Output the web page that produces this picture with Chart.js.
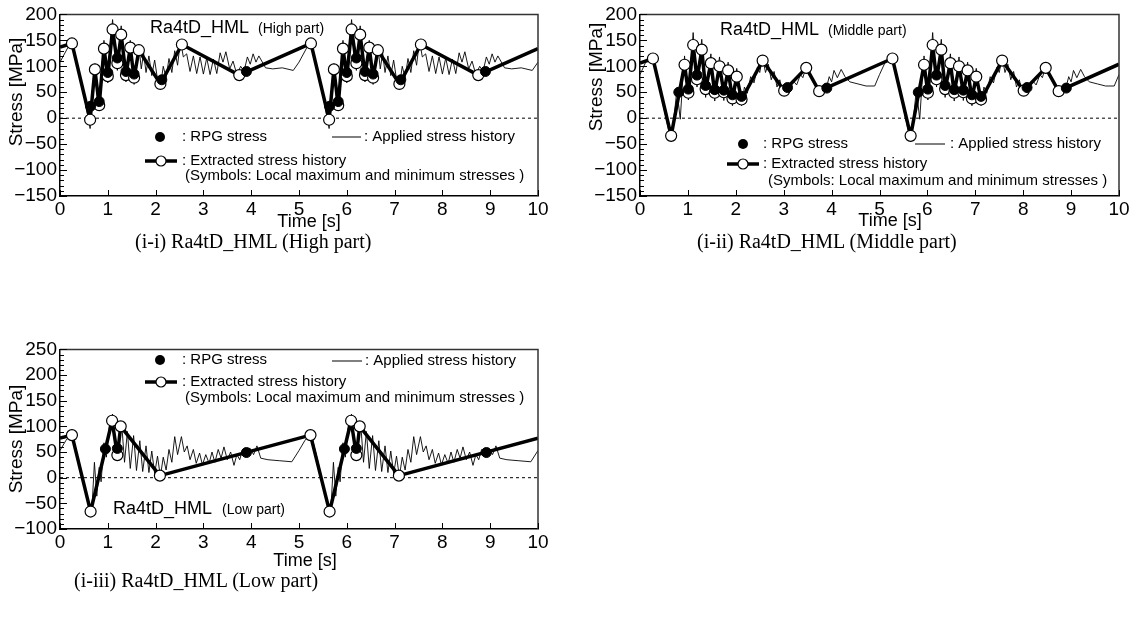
<!DOCTYPE html>
<html>
<head>
<meta charset="utf-8">
<script src="https://cdn.jsdelivr.net/npm/chart.js@4"></script>
<style>
  body { margin: 0; background: #fff; width: 1139px; height: 619px; position: relative; overflow: hidden; }
  canvas { position: absolute; }
  .cap { position: absolute; font-family: 'Liberation Serif', 'Times New Roman', serif; font-size: 20px; line-height: 1; color: #000; white-space: nowrap; }
</style>
</head>
<body>
<canvas id="cHigh" width="560" height="240" style="left:0;top:0"></canvas>
<canvas id="cMid" width="559" height="240" style="left:580px;top:0"></canvas>
<canvas id="cLow" width="560" height="245" style="left:0;top:335px"></canvas>
<div class="cap" style="left:135px;top:231px">(i-i) Ra4tD_HML (High part)</div>
<div class="cap" style="left:697px;top:231px">(i-ii) Ra4tD_HML (Middle part)</div>
<div class="cap" style="left:74px;top:570px">(i-iii) Ra4tD_HML (Low part)</div>
<script>
// time [s], stress [MPa]
const highApplied = [[0,108],[0.17,137],[0.25,146],[0.45,70],[0.63,-20],[0.66,15],[0.70,60],[0.73,105],[0.78,40],[0.82,14],[0.87,90],[0.92,150],[0.96,100],[1.00,68],[1.05,140],[1.10,190],[1.15,130],[1.20,92],[1.24,140],[1.28,178],[1.33,120],[1.38,70],[1.42,110],[1.47,150],[1.51,110],[1.55,65],[1.60,100],[1.65,140],[1.70,95],[1.75,125],[1.80,88],[1.86,120],[1.92,82],[1.98,112],[2.04,75],[2.10,60],[2.16,100],[2.22,78],[2.28,115],[2.34,88],[2.40,130],[2.46,102],[2.52,150],[2.58,118],[2.65,124],[2.72,90],[2.79,120],[2.86,86],[2.93,118],[3.00,85],[3.07,116],[3.14,84],[3.21,114],[3.28,86],[3.35,126],[3.41,108],[3.47,128],[3.55,95],[3.62,110],[3.70,84],[3.78,100],[3.85,90],[3.92,118],[3.98,104],[4.04,124],[4.10,108],[4.16,120],[4.30,97],[4.45,95],[4.65,97],[4.88,92],
  [5,108],[5.17,137],[5.25,146],[5.45,70],[5.63,-20],[5.66,15],[5.70,60],[5.73,105],[5.78,40],[5.82,14],[5.87,90],[5.92,150],[5.96,100],[6.00,68],[6.05,140],[6.10,190],[6.15,130],[6.20,92],[6.24,140],[6.28,178],[6.33,120],[6.38,70],[6.42,110],[6.47,150],[6.51,110],[6.55,65],[6.60,100],[6.65,140],[6.70,95],[6.75,125],[6.80,88],[6.86,120],[6.92,82],[6.98,112],[7.04,75],[7.10,60],[7.16,100],[7.22,78],[7.28,115],[7.34,88],[7.40,130],[7.46,102],[7.52,150],[7.58,118],[7.65,124],[7.72,90],[7.79,120],[7.86,86],[7.93,118],[8.00,85],[8.07,116],[8.14,84],[8.21,114],[8.28,86],[8.35,126],[8.41,108],[8.47,128],[8.55,95],[8.62,110],[8.70,84],[8.78,100],[8.85,90],[8.92,118],[8.98,104],[9.04,124],[9.10,108],[9.16,120],[9.30,97],[9.45,95],[9.65,97],[9.88,92],[10,108]];
const highExtracted = [[0,137],[0.25,144],[0.63,-3],[0.73,94],[0.82,25],[0.92,134],[1.00,81],[1.10,171],[1.20,106],[1.28,161],[1.38,83],[1.47,136],[1.55,78],[1.65,131],[2.10,66],[2.55,142],[3.75,83],
  [5.25,144],[5.63,-3],[5.73,94],[5.82,25],[5.92,134],[6.00,81],[6.10,171],[6.20,106],[6.28,161],[6.38,83],[6.47,136],[6.55,78],[6.65,131],[7.10,66],[7.55,142],[8.75,83],[10,134]];
const highRpg = [[0.64,23],[0.82,32],[1.00,88],[1.20,116],[1.38,90],[1.55,85],[2.13,74],[3.90,90],
  [5.64,23],[5.82,32],[6.00,88],[6.20,116],[6.38,90],[6.55,85],[7.13,74],[8.90,90]];

const midApplied = [[0,84],[0.12,108],[0.27,118],[0.45,40],[0.65,-45],[0.72,10],[0.77,55],[0.84,-2],[0.89,70],[0.93,120],[0.97,70],[1.01,35],[1.06,100],[1.11,165],[1.15,110],[1.19,60],[1.24,110],[1.29,152],[1.33,95],[1.37,40],[1.42,85],[1.48,124],[1.52,80],[1.56,33],[1.61,80],[1.66,118],[1.70,75],[1.75,34],[1.80,75],[1.84,108],[1.88,65],[1.93,24],[1.97,65],[2.02,96],[2.07,60],[2.12,24],[2.18,60],[2.24,48],[2.31,80],[2.38,68],[2.45,98],[2.50,88],[2.56,118],[2.62,88],[2.68,104],[2.74,74],[2.80,90],[2.86,60],[2.92,74],[2.98,46],[3.05,62],[3.12,54],[3.20,72],[3.27,64],[3.35,84],[3.40,78],[3.47,100],[3.55,80],[3.62,72],[3.68,58],[3.75,46],[3.82,62],[3.88,54],[3.95,80],[4.00,70],[4.05,92],[4.12,78],[4.20,94],[4.28,80],[4.38,70],[4.55,66],[4.72,62],[4.90,62],
  [5,84],[5.12,108],[5.27,118],[5.45,40],[5.65,-45],[5.72,10],[5.77,55],[5.84,-2],[5.89,70],[5.93,120],[5.97,70],[6.01,35],[6.06,100],[6.11,165],[6.15,110],[6.19,60],[6.24,110],[6.29,152],[6.33,95],[6.37,40],[6.42,85],[6.48,124],[6.52,80],[6.56,33],[6.61,80],[6.66,118],[6.70,75],[6.75,34],[6.80,75],[6.84,108],[6.88,65],[6.93,24],[6.97,65],[7.02,96],[7.07,60],[7.12,24],[7.18,60],[7.24,48],[7.31,80],[7.38,68],[7.45,98],[7.50,88],[7.56,118],[7.62,88],[7.68,104],[7.74,74],[7.80,90],[7.86,60],[7.92,74],[7.98,46],[8.05,62],[8.12,54],[8.20,72],[8.27,64],[8.35,84],[8.40,78],[8.47,100],[8.55,80],[8.62,72],[8.68,58],[8.75,46],[8.82,62],[8.88,54],[8.95,80],[9.00,70],[9.05,92],[9.12,78],[9.20,94],[9.28,80],[9.38,70],[9.55,66],[9.72,62],[9.90,62],[10,84]];
const midExtracted = [[0,106],[0.27,115],[0.65,-34],[0.93,103],[1.01,49],[1.11,141],[1.19,75],[1.29,132],[1.37,56],[1.48,106],[1.56,49],[1.66,100],[1.75,50],[1.84,92],[1.93,38],[2.02,80],[2.12,36],[2.56,111],[3.01,53],[3.47,97],[3.74,52],
  [5.27,115],[5.65,-34],[5.93,103],[6.01,49],[6.11,141],[6.19,75],[6.29,132],[6.37,56],[6.48,106],[6.56,49],[6.66,100],[6.75,50],[6.84,92],[6.93,38],[7.02,80],[7.12,36],[7.56,111],[8.01,53],[8.47,97],[8.74,52],[10,104]];
const midRpg = [[0.81,50],[1.01,56],[1.19,83],[1.37,63],[1.56,55],[1.75,54],[1.93,45],[2.12,42],[3.08,59],[3.90,58],
  [5.81,50],[6.01,56],[6.19,83],[6.37,63],[6.56,55],[6.75,54],[6.93,45],[7.12,42],[8.08,59],[8.90,58]];

const lowApplied = [[0,53],[0.12,72],[0.25,88],[0.45,10],[0.64,-72],[0.68,-40],[0.72,30],[0.77,-36],[0.82,20],[0.86,-8],[0.92,68],[0.97,40],[1.03,100],[1.10,124],[1.15,70],[1.20,40],[1.25,90],[1.29,106],[1.35,30],[1.41,90],[1.47,18],[1.54,82],[1.60,14],[1.67,72],[1.73,12],[1.80,62],[1.86,10],[1.92,52],[1.98,8],[2.04,42],[2.10,2],[2.16,40],[2.22,15],[2.28,55],[2.34,30],[2.40,80],[2.46,45],[2.54,80],[2.60,50],[2.66,62],[2.72,35],[2.79,55],[2.85,28],[2.92,48],[2.98,25],[3.05,45],[3.12,28],[3.18,50],[3.24,30],[3.31,55],[3.37,38],[3.43,60],[3.50,35],[3.57,50],[3.64,24],[3.70,45],[3.76,35],[3.82,55],[3.90,50],[3.97,58],[4.05,45],[4.12,62],[4.20,38],[4.35,35],[4.60,33],[4.85,31],
  [5,53],[5.12,72],[5.25,88],[5.45,10],[5.64,-72],[5.68,-40],[5.72,30],[5.77,-36],[5.82,20],[5.86,-8],[5.92,68],[5.97,40],[6.03,100],[6.10,124],[6.15,70],[6.20,40],[6.25,90],[6.29,106],[6.35,30],[6.41,90],[6.47,18],[6.54,82],[6.60,14],[6.67,72],[6.73,12],[6.80,62],[6.86,10],[6.92,52],[6.98,8],[7.04,42],[7.10,2],[7.16,40],[7.22,15],[7.28,55],[7.34,30],[7.40,80],[7.46,45],[7.54,80],[7.60,50],[7.66,62],[7.72,35],[7.79,55],[7.85,28],[7.92,48],[7.98,25],[8.05,45],[8.12,28],[8.18,50],[8.24,30],[8.31,55],[8.37,38],[8.43,60],[8.50,35],[8.57,50],[8.64,24],[8.70,45],[8.76,35],[8.82,55],[8.90,50],[8.97,58],[9.05,45],[9.12,62],[9.20,38],[9.35,35],[9.60,33],[9.85,31],[10,53]];
const lowExtracted = [[0,77],[0.25,83],[0.64,-66],[1.09,111],[1.20,44],[1.27,100],[2.09,4],
  [5.24,83],[5.64,-66],[6.09,111],[6.20,44],[6.27,100],[7.09,4],[10,77]];
const lowRpg = [[0.95,56],[1.20,57],[3.90,49],[5.95,56],[6.20,57],[8.92,49]];

const zeroLine = [[0,0],[10,0]];
const timeTicks = { min: 0, max: 10, step: 1 };

const FONT = "'Liberation Sans', Arial, Helvetica, sans-serif";
Chart.defaults.font.family = FONT;
Chart.defaults.color = '#000';

function pts(arr) {
  return arr.map(p => ({ x: p[0], y: p[1] }));
}

function drawDecor(chart, cfg) {
  const ctx = chart.ctx;
  const a = chart.chartArea;
  const xs = chart.scales.x, ys = chart.scales.y;
  ctx.save();
  // frame
  ctx.strokeStyle = '#333';
  ctx.lineWidth = 1.5;
  ctx.beginPath();
  ctx.moveTo(a.left, a.top);
  ctx.lineTo(a.right, a.top);
  ctx.lineTo(a.right, a.bottom);
  ctx.stroke();
  // inner ticks
  ctx.strokeStyle = '#000';
  ctx.lineWidth = 1;
  ctx.beginPath();
  xs.ticks.forEach(t => {
    const p = Math.round(xs.getPixelForValue(t.value)) + 0.5;
    ctx.moveTo(p, a.bottom);
    ctx.lineTo(p, a.bottom - 6);
  });
  ys.ticks.forEach(t => {
    const p = Math.round(ys.getPixelForValue(t.value)) + 0.5;
    const len = Math.abs(t.value % 50) < 1e-6 ? 7 : 4;
    ctx.moveTo(a.left, p);
    ctx.lineTo(a.left + len, p);
  });
  ctx.stroke();

  ctx.translate(-cfg.ox, -cfg.oy);
  // legend samples
  const L = cfg.legend;
  ctx.fillStyle = '#000';
  ctx.beginPath();
  ctx.arc(L.dot[0], L.dot[1], 5, 0, Math.PI * 2);
  ctx.fill();
  ctx.lineWidth = 1;
  ctx.beginPath();
  ctx.moveTo(L.thin[0], L.thin[2]);
  ctx.lineTo(L.thin[1], L.thin[2]);
  ctx.stroke();
  ctx.lineWidth = 3.5;
  ctx.beginPath();
  ctx.moveTo(L.thick[0], L.thick[2]);
  ctx.lineTo(L.thick[1], L.thick[2]);
  ctx.stroke();
  ctx.fillStyle = '#fff';
  ctx.lineWidth = 1.2;
  ctx.beginPath();
  ctx.arc((L.thick[0] + L.thick[1]) / 2, L.thick[2], 5, 0, Math.PI * 2);
  ctx.fill();
  ctx.stroke();

  // texts
  ctx.fillStyle = '#000';
  ctx.textBaseline = 'middle';
  cfg.texts.forEach(t => {
    ctx.font = (t.s || 15) + 'px ' + FONT;
    ctx.textAlign = t.c ? 'center' : 'left';
    if (t.rot) {
      ctx.save();
      ctx.translate(t.x, t.y);
      ctx.rotate(-Math.PI / 2);
      ctx.textAlign = 'center';
      ctx.fillText(t.t, 0, 0);
      ctx.restore();
    } else {
      ctx.fillText(t.t, t.x, t.y);
    }
  });
  ctx.restore();
}

function makePanel(id, applied, extracted, rpg, yMin, yMax, layout, decor) {
  const last = extracted.length - 1;
  return new Chart(document.getElementById(id), {
    type: 'scatter',
    data: {
      datasets: [
        {
          label: 'RPG stress',
          data: pts(rpg),
          showLine: false,
          pointRadius: 5,
          pointBackgroundColor: '#000',
          pointBorderColor: '#000',
          order: 0,
        },
        {
          label: 'Extracted stress history',
          data: pts(extracted),
          showLine: true,
          borderColor: '#000',
          borderWidth: 3.5,
          borderJoinStyle: 'round',
          pointRadius: (c) => (c.dataIndex === 0 || c.dataIndex === last ? 0 : 5.5),
          pointBackgroundColor: '#fff',
          pointBorderColor: '#000',
          pointBorderWidth: 1.2,
          order: 1,
        },
        {
          label: 'Applied stress history',
          data: pts(applied),
          showLine: true,
          borderColor: '#000',
          borderWidth: 0.9,
          pointRadius: 0,
          order: 2,
        },
        {
          label: 'zero',
          data: pts(zeroLine),
          showLine: true,
          borderColor: '#000',
          borderWidth: 1,
          borderDash: [3, 3],
          pointRadius: 0,
          order: 3,
        },
      ],
    },
    options: {
      responsive: false,
      animation: false,
      events: [],
      layout: { padding: { top: layout.top, right: layout.right, left: 0, bottom: 0 } },
      plugins: { legend: { display: false }, tooltip: { enabled: false } },
      scales: {
        x: {
          type: 'linear',
          min: timeTicks.min,
          max: timeTicks.max,
          afterFit: (s) => { s.height = layout.xh; },
          ticks: { stepSize: timeTicks.step, font: { size: 19 }, color: '#000', padding: 2, maxRotation: 0 },
          grid: { display: false, drawTicks: false },
          border: { display: true, color: '#000', width: 1.5 },
        },
        y: {
          min: yMin,
          max: yMax,
          afterFit: (s) => { s.width = 60; },
          ticks: {
            stepSize: 10,
            maxTicksLimit: 100,
            autoSkip: false,
            font: { size: 19 },
            color: '#000',
            padding: 3,
            callback: (v) => (Math.abs(v % 50) < 1e-6 ? String(v).replace('-', '\u2212') : ''),
          },
          grid: { display: false, drawTicks: false },
          border: { display: true, color: '#000', width: 1.5 },
        },
      },
    },
    plugins: [{ id: 'decor', afterDraw: (chart) => drawDecor(chart, decor) }],
  });
}

makePanel('cHigh', highApplied, highExtracted, highRpg, -150, 200,
  { top: 9, right: 22, xh: 44 },
  {
    ox: 0, oy: 0,
    legend: { dot: [160, 137], thin: [332, 361, 137], thick: [145, 177, 161] },
    texts: [
      { t: 'Ra4tD_HML', x: 150, y: 28, s: 18 },
      { t: '(High part)', x: 258, y: 29, s: 14 },
      { t: ': RPG stress', x: 182, y: 137 },
      { t: ': Applied stress history', x: 364, y: 137 },
      { t: ': Extracted stress history', x: 182, y: 161 },
      { t: '(Symbols: Local maximum and minimum stresses )', x: 185, y: 176 },
      { t: 'Stress [MPa]', x: 17, y: 92, s: 19, rot: true },
      { t: 'Time [s]', x: 309, y: 222, s: 18, c: true },
    ],
  });

makePanel('cMid', midApplied, midExtracted, midRpg, -150, 200,
  { top: 9, right: 20, xh: 44 },
  {
    ox: 580, oy: 0,
    legend: { dot: [743, 144], thin: [915, 945, 144], thick: [727, 759, 164] },
    texts: [
      { t: 'Ra4tD_HML', x: 720, y: 30, s: 18 },
      { t: '(Middle part)', x: 828, y: 31, s: 14 },
      { t: ': RPG stress', x: 763, y: 144 },
      { t: ': Applied stress history', x: 950, y: 144 },
      { t: ': Extracted stress history', x: 763, y: 164 },
      { t: '(Symbols: Local maximum and minimum stresses )', x: 768, y: 181 },
      { t: 'Stress [MPa]', x: 597, y: 77, s: 19, rot: true },
      { t: 'Time [s]', x: 890, y: 221, s: 18, c: true },
    ],
  });

makePanel('cLow', lowApplied, lowExtracted, lowRpg, -100, 250,
  { top: 9, right: 22, xh: 51 },
  {
    ox: 0, oy: 335,
    legend: { dot: [160, 360], thin: [332, 362, 361], thick: [145, 177, 382] },
    texts: [
      { t: ': RPG stress', x: 182, y: 360 },
      { t: ': Applied stress history', x: 365, y: 361 },
      { t: ': Extracted stress history', x: 182, y: 382 },
      { t: '(Symbols: Local maximum and minimum stresses )', x: 185, y: 398 },
      { t: 'Ra4tD_HML', x: 113, y: 509, s: 18 },
      { t: '(Low part)', x: 222, y: 510, s: 14 },
      { t: 'Stress [MPa]', x: 17, y: 439, s: 19, rot: true },
      { t: 'Time [s]', x: 305, y: 561, s: 18, c: true },
    ],
  });
</script>
</body>
</html>
